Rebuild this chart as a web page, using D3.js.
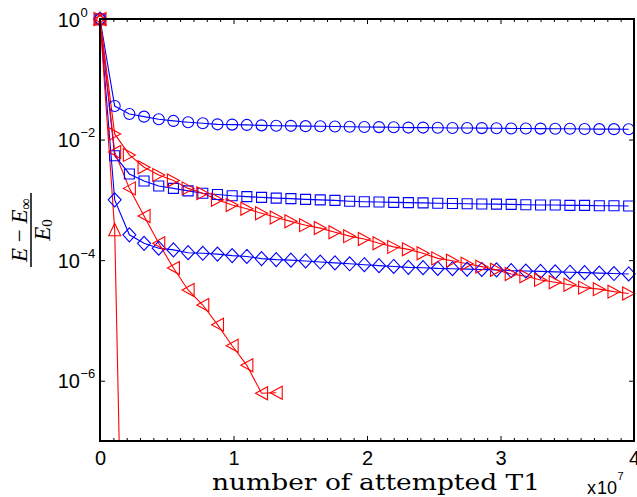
<!DOCTYPE html>
<html><head><meta charset="utf-8">
<script src="https://cdn.jsdelivr.net/npm/d3@7"></script>
<style>
html,body{margin:0;padding:0;background:#fff;}
svg{display:block;}
</style></head>
<body>
<svg id="chart" width="637" height="497"></svg>
<script>
// ---------- data ----------
const stepSize = 1.1e6;           // spacing of the samples (attempted T1)
const circleVals = [1, 3.6e-2, 2.66e-2, 2.4e-2, 2.17e-2, 2.04e-2, 1.94e-2, 1.86e-2, 1.79e-2, 1.77e-2, 1.75e-2,
  1.72e-2, 1.70e-2, 1.69e-2, 1.67e-2, 1.66e-2, 1.65e-2, 1.63e-2, 1.62e-2, 1.61e-2, 1.60e-2,
  1.58e-2, 1.58e-2, 1.57e-2, 1.56e-2, 1.56e-2, 1.55e-2, 1.54e-2, 1.53e-2, 1.53e-2, 1.52e-2,
  1.51e-2, 1.51e-2, 1.50e-2, 1.49e-2, 1.49e-2, 1.48e-2];
const squareVals = [1, 5.4e-3, 2.69e-3, 2.06e-3, 1.70e-3, 1.55e-3, 1.41e-3, 1.29e-3, 1.23e-3, 1.17e-3, 1.13e-3,
  1.10e-3, 1.07e-3, 1.05e-3, 1.02e-3, 1.0e-3, 9.8e-4, 9.5e-4, 9.3e-4, 9.2e-4, 9.1e-4,
  9.0e-4, 8.9e-4, 8.8e-4, 8.7e-4, 8.6e-4, 8.55e-4, 8.5e-4, 8.4e-4, 8.3e-4, 8.2e-4,
  8.2e-4, 8.1e-4, 8.1e-4, 8.0e-4, 8.0e-4, 7.9e-4];
const diamondVals = [1, 1.0e-3, 2.63e-4, 1.9e-4, 1.58e-4, 1.48e-4, 1.33e-4, 1.30e-4, 1.26e-4, 1.19e-4, 1.15e-4,
  1.06e-4, 1.02e-4, 1.0e-4, 9.7e-5, 9.3e-5, 9.0e-5, 8.7e-5, 8.4e-5, 8.1e-5, 7.85e-5,
  7.6e-5, 7.5e-5, 7.3e-5, 7.2e-5, 7.1e-5, 7.0e-5, 6.9e-5, 6.7e-5, 6.6e-5, 6.5e-5,
  6.4e-5, 6.3e-5, 6.2e-5, 6.1e-5, 6.0e-5, 5.9e-5];
const triRightVals = [1, 1.24e-2, 5.56e-3, 3.47e-3, 2.59e-3, 2.09e-3, 1.55e-3, 1.29e-3, 1.0e-3, 8.2e-4, 7.1e-4,
  6.0e-4, 5.1e-4, 4.4e-4, 3.8e-4, 3.4e-4, 2.9e-4, 2.5e-4, 2.24e-4, 1.9e-4, 1.66e-4,
  1.51e-4, 1.30e-4, 1.07e-4, 9.8e-5, 8.7e-5, 7.8e-5, 6.9e-5, 5.9e-5, 5.4e-5, 4.7e-5,
  4.3e-5, 3.9e-5, 3.5e-5, 3.3e-5, 3.0e-5, 2.8e-5];
const triLeftVals = [1, 6.2e-3, 1.55e-3, 5.4e-4, 1.9e-4, 7.4e-5, 3.2e-5, 1.8e-5, 8.5e-6, 3.8e-6, 1.8e-6, 6.2e-7, 6.3e-7];
const triUpVals = [1, 3.2e-4, 1e-15];

const xMajorTicks = [0, 1e7, 2e7, 3e7, 4e7];
const xTickLabels = ["0", "1", "2", "3", "4"];
const yMajorTicks = [1, 1e-2, 1e-4, 1e-6];
const yTickExponents = ["0", "\u22122", "\u22124", "\u22126"];

// ---------- layout ----------
const L = 100, R = 634, T = 19, B = 441;
const svg = d3.select("#chart");
const x = d3.scaleLinear().domain([0, 4e7]).range([L, R]);
const y = d3.scaleLog().domain([1e-7, 1]).range([B, T]);

const blue = "#0000ff", red = "#ff0000";
const series = [
  {vals: circleVals, color: blue, marker: "circle"},
  {vals: squareVals, color: blue, marker: "square"},
  {vals: diamondVals, color: blue, marker: "diamond"},
  {vals: triRightVals, color: red, marker: "right"},
  {vals: triLeftVals, color: red, marker: "left"},
  {vals: triUpVals, color: red, marker: "up"}
];

function markerPath(type) {
  switch (type) {
    case "circle": return d3.symbol(d3.symbolCircle, Math.PI * 5.5 * 5.5)();
    case "square": return "M-5,-5H5V5H-5Z";
    case "diamond": return "M0,-7L6.5,0L0,7L-6.5,0Z";
    case "right": return "M-6,-6.5L6,0L-6,6.5Z";
    case "left": return "M6,-6.5L-6,0L6,6.5Z";
    case "up": return "M0,-6.5L6,6L-6,6Z";
  }
}

svg.append("defs").append("clipPath").attr("id", "plotclip")
  .append("rect").attr("x", L).attr("y", T - 1).attr("width", R - L).attr("height", B - T + 1);

const plot = svg.append("g").attr("clip-path", "url(#plotclip)");
const line = d3.line().x((d, i) => x(i * stepSize)).y(d => y(d));

series.forEach(s => {
  plot.append("path").datum(s.vals)
    .attr("d", line).attr("fill", "none")
    .attr("stroke", s.color).attr("stroke-width", 1.1);
});
const markG = svg.append("g");
series.forEach(s => {
  markG.selectAll(null).data(s.vals.filter(v => v >= 1e-7)).enter().append("path")
    .attr("d", markerPath(s.marker))
    .attr("transform", (d, i) => `translate(${x(i * stepSize)},${y(d)})`)
    .attr("fill", "none").attr("stroke", s.color).attr("stroke-width", 1.1);
});

// ---------- axes ----------
const fontSans = "'Liberation Sans', Arial, Helvetica, sans-serif";
const minorX = d3.range(0, 4e7 + 1, 1e6).filter(v => v % 1e7 !== 0);

function styleAxis(g) {
  g.select(".domain").remove();
  g.selectAll("line").attr("stroke", "#000").attr("stroke-width", 1);
}
// bottom
svg.append("g").attr("transform", `translate(0,${B})`)
  .call(d3.axisBottom(x).tickValues(xMajorTicks).tickSize(-5).tickPadding(10)
    .tickFormat((d, i) => xTickLabels[i]))
  .call(styleAxis)
  .call(g => g.selectAll("text").attr("font-family", fontSans).attr("font-size", 20).attr("fill", "#000"));
svg.append("g").attr("transform", `translate(0,${B})`)
  .call(d3.axisBottom(x).tickValues(minorX).tickSize(-3).tickFormat(""))
  .call(styleAxis);
// top
svg.append("g").attr("transform", `translate(0,${T})`)
  .call(d3.axisTop(x).tickValues(xMajorTicks).tickSize(-5).tickFormat(""))
  .call(styleAxis);
svg.append("g").attr("transform", `translate(0,${T})`)
  .call(d3.axisTop(x).tickValues(minorX).tickSize(-3).tickFormat(""))
  .call(styleAxis);
// left
svg.append("g").attr("transform", `translate(${L},0)`)
  .call(d3.axisLeft(y).tickValues(yMajorTicks).tickSize(-5).tickFormat(""))
  .call(styleAxis);
// right
svg.append("g").attr("transform", `translate(${R},0)`)
  .call(d3.axisRight(y).tickValues(yMajorTicks).tickSize(-5).tickFormat(""))
  .call(styleAxis);

// y tick labels 10^n
const yl = svg.append("g").attr("font-family", fontSans).attr("fill", "#000");
yMajorTicks.forEach((v, i) => {
  const ty = y(v);
  yl.append("text").attr("x", 80).attr("y", ty + 7.5).attr("text-anchor", "end")
    .attr("font-size", 20).text("10");
  yl.append("text").attr("x", 80.5).attr("y", ty - 2.5).attr("text-anchor", "start")
    .attr("font-size", 13).text(yTickExponents[i]);
});

// frame
svg.append("rect").attr("x", L).attr("y", T).attr("width", R - L).attr("height", B - T)
  .attr("fill", "none").attr("stroke", "#000").attr("stroke-width", 2);

// x multiplier
svg.append("text").attr("x", 587).attr("y", 494).attr("font-family", fontSans)
  .attr("font-size", 18).attr("fill", "#000").text("x");
svg.append("text").attr("x", 597).attr("y", 494).attr("font-family", fontSans)
  .attr("font-size", 18).attr("fill", "#000").text("10");
svg.append("text").attr("x", 617.5).attr("y", 480).attr("font-family", fontSans)
  .attr("font-size", 11).attr("fill", "#000").text("7");

// x label
const fontSerif = "'DejaVu Serif', 'Liberation Serif', serif";
svg.append("text").attr("x", 212).attr("y", 490).attr("font-family", fontSerif)
  .attr("font-size", 22).attr("fill", "#000").attr("font-weight", 300)
  .attr("textLength", 328).attr("lengthAdjust", "spacingAndGlyphs")
  .text("number of attempted T1");

// y label: (E - E_inf) / E_0 rotated
const fontMath = "'Liberation Serif', 'Times New Roman', serif";
const yLab = svg.append("g").attr("transform", "translate(31,230) rotate(-90)")
  .attr("font-family", fontMath).attr("fill", "#000");
const num = yLab.append("text").attr("x", 0).attr("y", -4).attr("text-anchor", "middle").attr("font-size", 23);
num.append("tspan").attr("font-style", "italic").text("E");
num.append("tspan").text(" \u2212 ");
num.append("tspan").attr("font-style", "italic").text("E");
num.append("tspan").attr("font-size", 16).attr("dy", 4).text("\u221e");
yLab.append("line").attr("x1", -37).attr("x2", 37).attr("y1", 0).attr("y2", 0)
  .attr("stroke", "#000").attr("stroke-width", 1.5);
const den = yLab.append("text").attr("x", 0).attr("y", 19).attr("text-anchor", "middle").attr("font-size", 23);
den.append("tspan").attr("font-style", "italic").text("E");
den.append("tspan").attr("font-size", 15).attr("dy", 2).text("0");
</script>
</body></html>
